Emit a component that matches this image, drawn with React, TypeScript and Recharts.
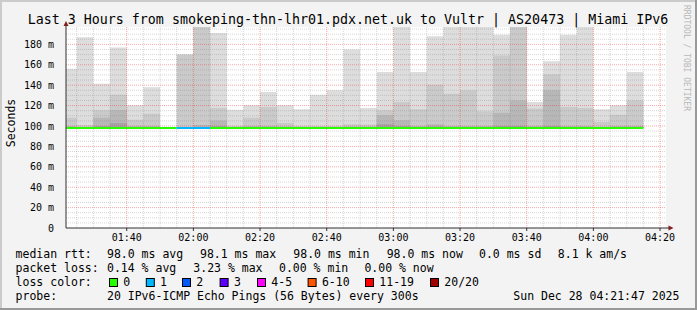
import React from "react";
import { ComposedChart, Area, Line, XAxis, YAxis, ReferenceLine, CartesianGrid } from "recharts";

// 5 minute steps, start of each step
const slots = [
  "01:20", "01:25", "01:30", "01:35", "01:40", "01:45", "01:50", "01:55", "02:00", "02:05",
  "02:10", "02:15", "02:20", "02:25", "02:30", "02:35", "02:40", "02:45", "02:50", "02:55",
  "03:00", "03:05", "03:10", "03:15", "03:20", "03:25", "03:30", "03:35", "03:40", "03:45",
  "03:50", "03:55", "04:00", "04:05", "04:10",
];

// upper pings of each step (ms), sorted: ping20 = max
const ping20 = [
  156, 187, 141.5, 177, 120.3, 138, 99, 170, 200, 191,
  116, 120.3, 133.4, 120.3, 116.4, 130.7, 135, 175, 117.7, 153,
  200, 153, 188, 200, 200, 200, 189.4, 200, 123.6, 163.4,
  189.4, 200, 116.4, 120.3, 153,
];
const ping19 = [
  108, 101, 115.5, 130.7, 106, 112, 98.8, 170, 200, 117.7,
  100, 108, 118.7, 103, 100, 100, 100, 101.7, 101.5, 115.5,
  123.6, 116.4, 140.5, 131.7, 135, 114.5, 169, 200, 117, 150.7,
  118.7, 117.7, 104, 111, 125,
];
const ping18 = [
  100, 99, 108, 115.5, 100, 100, 98.5, 99, 101, 105.3,
  99, 100, 100, 99.5, 99, 99, 99, 99.5, 99.5, 110.5,
  105.7, 100, 101.7, 100, 100, 100, 113, 125, 100, 135,
  100, 100, 99, 100, 100,
];
const ping17 = [
  99, 98.5, 100, 103, 99, 99, 98.3, 98.5, 99, 100,
  98.5, 99, 99, 99, 98.5, 98.5, 98.5, 99, 99, 101.7,
  100, 99, 99.5, 99, 99, 99, 100, 100, 99, 100,
  99, 99, 98.5, 99, 99,
];
const medianRtt = [
  98, 98, 98, 98, 98, 98, 98, 98, 98, 98,
  98, 98, 98, 98, 98, 98, 98, 98, 98, 98,
  98, 98, 98, 98, 98, 98, 98, 98, 98, 98,
  98, 98, 98, 98, 98,
];
const lossCount = [
  0, 0, 0, 0, 0, 0, 0, 1, 1, 0,
  0, 0, 0, 0, 0, 0, 0, 0, 0, 0,
  0, 0, 0, 0, 0, 0, 0, 0, 0, 0,
  0, 0, 0, 0, 0,
];

const yTicks = [0, 20, 40, 60, 80, 100, 120, 140, 160, 180];
const timeTicks = ["01:40", "02:00", "02:20", "02:40", "03:00", "03:20", "03:40", "04:00", "04:20"];

const lossLegend = [
  { label: "0", color: "#26ff00", min: 0, max: 0 },
  { label: "1", color: "#00b8ff", min: 1, max: 1 },
  { label: "2", color: "#0059ff", min: 2, max: 2 },
  { label: "3", color: "#5e00ff", min: 3, max: 3 },
  { label: "4-5", color: "#ff00ff", min: 4, max: 5 },
  { label: "6-10", color: "#ff5500", min: 6, max: 10 },
  { label: "11-19", color: "#ff0000", min: 11, max: 19 },
  { label: "20/20", color: "#a10000", min: 20, max: 20 },
];

const rttStats = ["98.0 ms avg", "98.1 ms max", "98.0 ms min", "98.0 ms now", "0.0 ms sd", "8.1 k am/s"];
const lossStats = ["0.14 % avg", "3.23 % max", "0.00 % min", "0.00 % now"];

const title = "Last 3 Hours from smokeping-thn-lhr01.pdx.net.uk to Vultr | AS20473 | Miami IPv6";
const probe = "20 IPv6-ICMP Echo Pings (56 Bytes) every 300s";
const stamp = "Sun Dec 28 04:21:47 2025";

const toMin = (s: string) => {
  const [h, m] = s.split(":").map(Number);
  return h * 60 + m;
};
const pad = (n: number) => String(n).padStart(2, "0");
const fmtTime = (m: number) => `${pad(Math.floor(m / 60))}:${pad(Math.round(m % 60))}`;

const STEP = 5;
const X_START = 81 + 47 / 60;
const X_END = X_START + 180;
const Y_MAX = 197;

const MONO = "'DejaVu Sans Mono', monospace";

// step points: one per slot start, plus the closing edge of the last slot
const last = slots.length - 1;
const data = Array.from({ length: slots.length + 1 }, (_, i) => {
  const j = Math.min(i, last);
  const row: any = {
    t: i <= last ? toMin(slots[i]) : toMin(slots[last]) + STEP,
    p20: ping20[j],
    p19: ping19[j],
    p18: ping18[j],
    p17: ping17[j],
  };
  lossLegend.forEach((c, k) => {
    const inCls = (n: number | undefined) => n !== undefined && n >= c.min && n <= c.max;
    if (i <= last && inCls(lossCount[i])) row["l" + k] = medianRtt[i];
    else if (i > 0 && inCls(lossCount[i - 1])) row["l" + k] = medianRtt[i - 1];
    else row["l" + k] = null;
  });
  return row;
});

const minorY: number[] = [];
for (let v = 5; v < Y_MAX; v += 5) if (v % 20 !== 0) minorY.push(v);
const minorX: number[] = [];
for (let m = 85; m < X_END; m += 5) if (m % 20 !== 0) minorX.push(m);

const smoke = [
  { key: "p20", color: "#dddddd" },
  { key: "p19", color: "#cacaca" },
  { key: "p18", color: "#b7b7b7" },
  { key: "p17", color: "#a4a4a4" },
];

const statX = [107, 200, 293.3, 386.7, 479, 557.8];
const lossX = [107, 193.3, 279, 364.4];
const boxX = [109, 145.8, 182, 219.6, 257, 307.6, 365, 430];
const rowY = [258, 272, 286, 300];

export default function App() {
  return (
    <div style={{ position: "absolute", left: 0, top: 0, width: 697, height: 310, background: "#f3f3f3" }}>
      <ComposedChart
        width={697}
        height={310}
        data={data}
        margin={{ top: 27, right: 31, bottom: 62, left: 6 }}
      >
        <CartesianGrid horizontal={false} vertical={false} fill="#ffffff" />
        <XAxis
          dataKey="t"
          type="number"
          domain={[X_START, X_END]}
          allowDataOverflow
          ticks={timeTicks.map(toMin)}
          tickFormatter={fmtTime}
          interval={0}
          height={20}
          tickSize={3}
          tickMargin={3}
          axisLine={{ stroke: "#303030" }}
          tickLine={{ stroke: "#303030" }}
          tick={{ fontSize: 10, fill: "#000", fontFamily: MONO }}
        />
        <YAxis
          type="number"
          domain={[0, Y_MAX]}
          allowDataOverflow
          ticks={yTicks}
          interval={0}
          width={60}
          tickLine={false}
          tickMargin={6}
          tickFormatter={(v: number) => (v === 0 ? "0" : `${v} m`)}
          axisLine={{ stroke: "#303030" }}
          tick={{ fontSize: 10, fill: "#000", fontFamily: MONO }}
        />
        {smoke.map((s) => (
          <Area
            key={s.key}
            type="stepAfter"
            dataKey={s.key}
            baseValue={98}
            fill={s.color}
            fillOpacity={1}
            stroke="none"
            dot={false}
            activeDot={false}
            isAnimationActive={false}
          />
        ))}
        {minorY.map((v) => (
          <ReferenceLine key={"my" + v} y={v} stroke="rgba(120,120,120,0.3)" strokeDasharray="1 1" />
        ))}
        {minorX.map((m) => (
          <ReferenceLine key={"mx" + m} x={m} stroke="rgba(120,120,120,0.3)" strokeDasharray="1 1" />
        ))}
        {yTicks.slice(1).map((v) => (
          <ReferenceLine key={"My" + v} y={v} stroke="rgba(230,40,40,0.4)" strokeDasharray="1 1" />
        ))}
        {timeTicks.map((s) => (
          <ReferenceLine key={"Mx" + s} x={toMin(s)} stroke="rgba(230,40,40,0.4)" strokeDasharray="1 1" />
        ))}
        {lossLegend.map((c, k) => (
          <Line
            key={"l" + k}
            type="stepAfter"
            dataKey={"l" + k}
            stroke={c.color}
            strokeWidth={2}
            dot={false}
            activeDot={false}
            connectNulls={false}
            isAnimationActive={false}
          />
        ))}
      </ComposedChart>
      <svg
        width={697}
        height={310}
        style={{ position: "absolute", left: 0, top: 0, pointerEvents: "none" }}
        fontFamily={MONO}
      >
        {/* frame */}
        <rect x={0} y={0} width={697} height={2} fill="#cbcbcb" />
        <rect x={0} y={0} width={2} height={310} fill="#cbcbcb" />
        <rect x={0} y={308} width={697} height={2} fill="#999999" />
        <rect x={695} y={0} width={2} height={310} fill="#999999" />
        {/* axis arrows */}
        <line x1={66} y1={27} x2={66} y2={24} stroke="#303030" />
        <polygon points="63.5,26 68.5,26 66,21" fill="#7f1f1f" />
        <line x1={666} y1={228} x2={669} y2={228} stroke="#303030" />
        <polygon points="668.5,225.5 668.5,230.5 673.5,228" fill="#7f1f1f" />

        <text x={348} y={24} fontSize={13.3} textAnchor="middle" fill="#000">{title}</text>
        <text x={14.5} y={123} fontSize={11.5} textAnchor="middle" fill="#000" transform="rotate(-90 14.5 123)">
          Seconds
        </text>
        <text
          x={684}
          y={5}
          fontSize={8}
          fill="#b8b8b8"
          transform="rotate(90 684 5)"
        >
          RRDTOOL / TOBI OETIKER
        </text>

        <text x={15.6} y={rowY[0]} fontSize={11.5} fill="#000">median rtt:</text>
        {rttStats.map((s, i) => (
          <text key={s} x={statX[i]} y={rowY[0]} fontSize={11.5} fill="#000">{s}</text>
        ))}
        <text x={15.6} y={rowY[1]} fontSize={11.5} fill="#000">packet loss:</text>
        {lossStats.map((s, i) => (
          <text key={s} x={lossX[i]} y={rowY[1]} fontSize={11.5} fill="#000">{s}</text>
        ))}
        <text x={15.6} y={rowY[2]} fontSize={11.5} fill="#000">loss color:</text>
        {lossLegend.map((c, i) => (
          <g key={c.label}>
            <rect x={boxX[i] + 0.5} y={278.5} width={8} height={8} fill={c.color} stroke="#000" strokeWidth={1} />
            <text x={boxX[i] + 14.3} y={rowY[2]} fontSize={11.5} fill="#000">{c.label}</text>
          </g>
        ))}
        <text x={15.6} y={rowY[3]} fontSize={11.5} fill="#000">probe:</text>
        <text x={107} y={rowY[3]} fontSize={11.5} fill="#000">{probe}</text>
        <text x={513.3} y={rowY[3]} fontSize={11.5} fill="#000">{stamp}</text>
      </svg>
    </div>
  );
}
